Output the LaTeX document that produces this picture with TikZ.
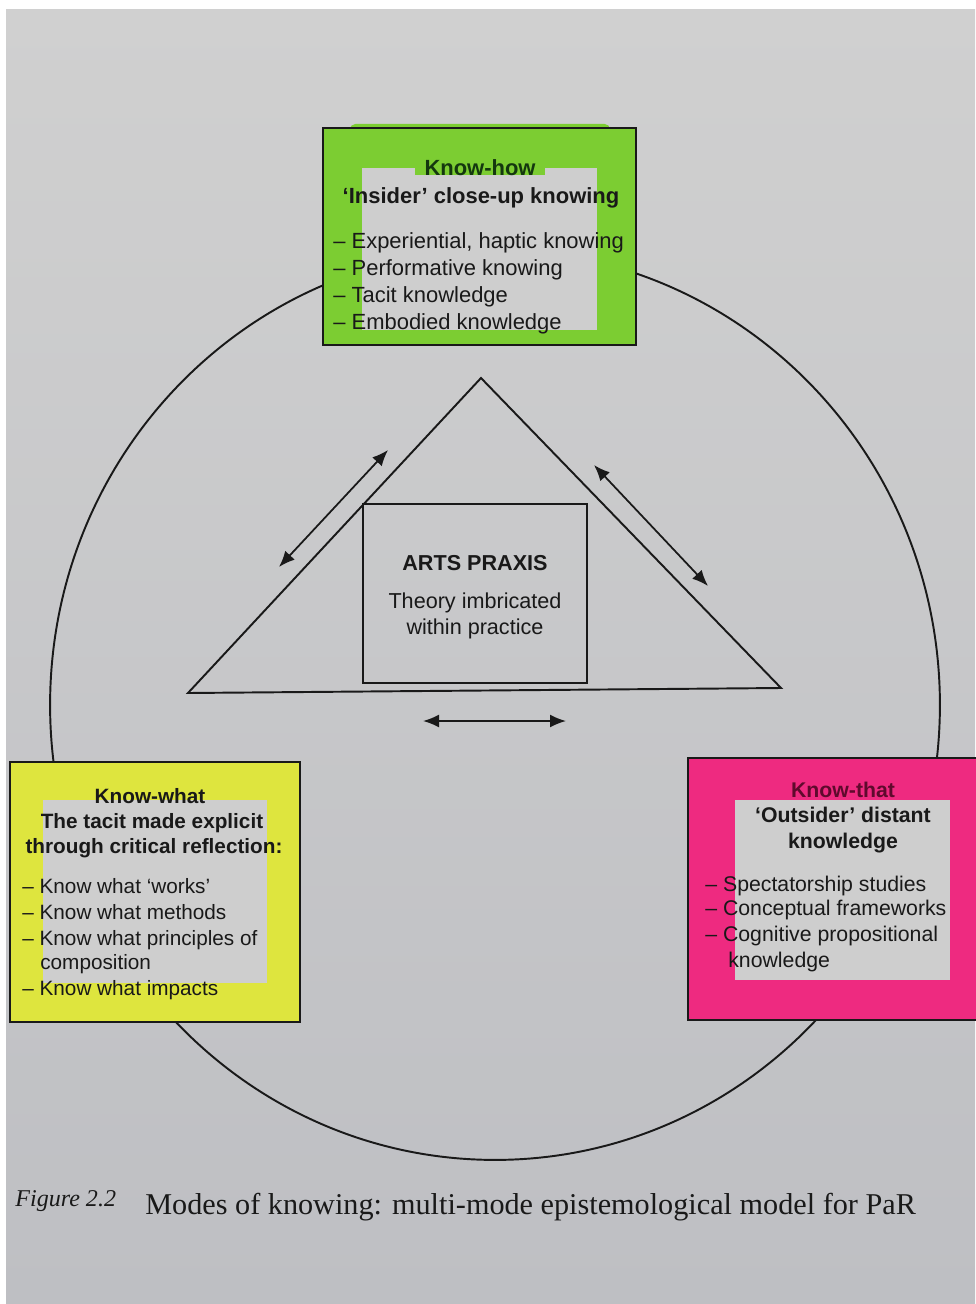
\documentclass[tikz,border=0pt]{standalone}
\usepackage{fontspec}
\setmainfont{Liberation Serif}
\setsansfont{Liberation Sans}
\usetikzlibrary{arrows.meta}
\definecolor{paperTop}{RGB}{208,208,208}
\definecolor{paperBot}{RGB}{190,191,195}
\definecolor{paperIn}{RGB}{206,206,206}
\definecolor{hlgreen}{RGB}{124,205,50}
\definecolor{hlyellow}{RGB}{222,229,62}
\definecolor{hlpink}{RGB}{238,42,128}
\definecolor{ink}{RGB}{25,25,25}
\definecolor{greenink}{RGB}{20,55,15}
\definecolor{pinkink}{RGB}{95,10,45}
\tikzset{
  outline/.style={draw=ink, line width=1.1pt},
  thin/.style={draw=ink, line width=0.9pt},
  dbl/.style={draw=ink, line width=1pt, {Latex[length=0.32cm,width=0.26cm]}-{Latex[length=0.32cm,width=0.26cm]}},
  hdG/.style={anchor=base, inner sep=0, text=ink, font=\sffamily\bfseries\fontsize{12.5}{15}\selectfont},
  liG/.style={anchor=base west, inner sep=0, text=ink, font=\sffamily\fontsize{12.5}{15}\selectfont},
  hdY/.style={anchor=base, inner sep=0, text=ink, font=\sffamily\bfseries\fontsize{11.8}{14}\selectfont},
  liY/.style={anchor=base west, inner sep=0, text=ink, font=\sffamily\fontsize{11.8}{14}\selectfont},
  hdP/.style={anchor=base, inner sep=0, text=ink, font=\sffamily\bfseries\fontsize{12.1}{14}\selectfont},
  liP/.style={anchor=base west, inner sep=0, text=ink, font=\sffamily\fontsize{12.1}{14}\selectfont},
  ctr/.style={anchor=base, inner sep=0, text=ink, font=\sffamily\fontsize{12.3}{14}\selectfont},
  ctrb/.style={anchor=base, inner sep=0, text=ink, font=\sffamily\bfseries\fontsize{12.3}{14}\selectfont},
}
\begin{document}
\begin{tikzpicture}[x=0.02cm,y=-0.02cm]
\useasboundingbox (0,0) rectangle (975,1304);
% page
\fill[white] (0,0) rectangle (975,1304);
\shade[top color=paperTop, bottom color=paperBot] (6,10) rectangle (975,1304);

% big circle
\draw[outline] (495,705) ellipse [x radius=8.9cm, y radius=9.1cm];

% triangle and inner square
\draw[outline] (481,378) -- (781,688) -- (188,693) -- cycle;
\draw[thin] (363,504) rectangle (587,683);
\node[ctrb] (arts) at (475,570) {ARTS PRAXIS};
\node[ctr] (theory1) at (475,608) {Theory imbricated};
\node[ctr] (theory2) at (475,634) {within practice};

% arrows
\coordinate (la1) at (279,567); \coordinate (la2) at (388,450);
\coordinate (ra1) at (594,465); \coordinate (ra2) at (708,586);
\coordinate (ba1) at (423,721); \coordinate (ba2) at (566,721);
\draw[dbl] (la1) -- (la2);
\draw[dbl] (ra1) -- (ra2);
\draw[dbl] (ba1) -- (ba2);

% Know-how box (green)
\fill[hlgreen, rounded corners=3pt] (350,124) rectangle (610,132);
\fill[hlgreen] (323,128) rectangle (636,345);
\fill[paperIn] (362,168) rectangle (597,330);
\fill[hlgreen] (415,152) rectangle (545,175);
\draw[outline] (323,128) rectangle (636,345);
\node[hdG, text=greenink] (kh1) at (480,176) {Know-how};
\node[hdG] (kh2) at (481,204) {‘Insider’ close-up knowing};
\node[liG] (kh3) at (333,248) {– Experiential, haptic knowing};
\node[liG] (kh4) at (333,275) {– Performative knowing};
\node[liG] (kh5) at (333,302) {– Tacit knowledge};
\node[liG] (kh6) at (333,329) {– Embodied knowledge};

% Know-what box (yellow)
\fill[hlyellow] (10,762) rectangle (300,1022);
\fill[paperIn] (43,800) rectangle (267,983);
\draw[outline] (10,762) rectangle (300,1022);
\node[hdY] (kw1) at (150,803) {Know-what};
\node[hdY] (kw2) at (152,828) {The tacit made explicit};
\node[hdY] (kw3) at (154,853) {through critical reflection:};
\node[liY] (kw4) at (22,893) {– Know what ‘works’};
\node[liY] (kw5) at (22,919) {– Know what methods};
\node[liY] (kw6) at (22,945) {– Know what principles of};
\node[liY] (kw7) at (40,969) {composition};
\node[liY] (kw8) at (22,995) {– Know what impacts};

% Know-that box (pink)
\fill[hlpink] (688,758) rectangle (985,1020);
\fill[paperIn] (735,800) rectangle (950,980);
\draw[outline] (688,758) rectangle (985,1020);
\node[hdP, text=pinkink] (kt1) at (843,797) {Know-that};
\node[hdP] (kt2) at (843,822) {‘Outsider’ distant};
\node[hdP] (kt3) at (843,848) {knowledge};
\node[liP] (kt4) at (705,891) {– Spectatorship studies};
\node[liP] (kt5) at (705,915) {– Conceptual frameworks};
\node[liP] (kt6) at (705,941) {– Cognitive propositional};
\node[liP] (kt7) at (728,967) {knowledge};

% caption
\node[anchor=base west, inner sep=0, text=ink, font=\itshape\fontsize{13.7}{16}\selectfont] (figno) at (15,1206) {Figure 2.2};
\node[anchor=base west, inner sep=0, text=ink, font=\fontsize{17.2}{20}\selectfont] (cap) at (145,1214) {Modes of knowing: multi-mode epistemological model for PaR};
\end{tikzpicture}
\end{document}
